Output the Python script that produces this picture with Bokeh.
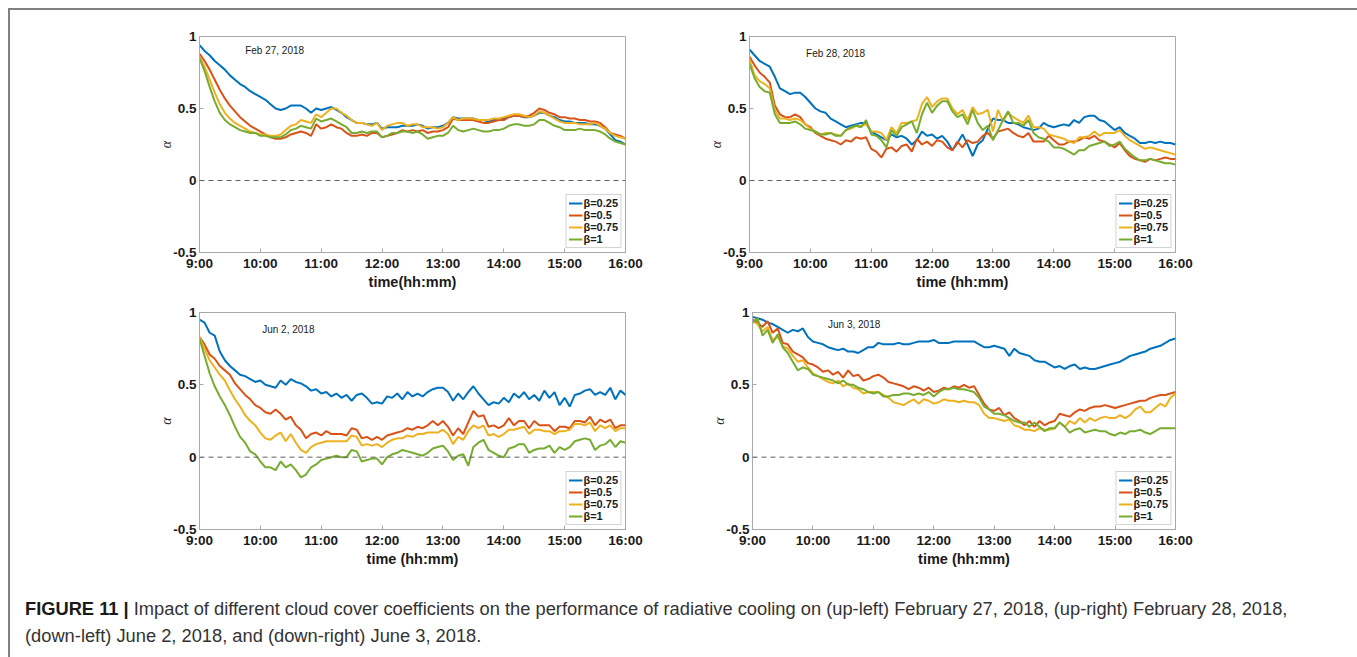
from bokeh.plotting import figure
from bokeh.models import Span, Label, FixedTicker, Legend, LegendItem, Div, ColumnDataSource
from bokeh.layouts import column, row
from bokeh.embed import file_html
from bokeh.resources import INLINE

# ---------------- data ----------------
hour_ticks = [9, 10, 11, 12, 13, 14, 15, 16]
hour_labels = ["9:00", "10:00", "11:00", "12:00", "13:00", "14:00", "15:00", "16:00"]
alpha_ticks = [-0.5, 0, 0.5, 1]
alpha_labels = ["-0.5", "0", "0.5", "1"]
beta_labels = ["\u03b2=0.25", "\u03b2=0.5", "\u03b2=0.75", "\u03b2=1"]
# samples every 5 minutes from 9:00 to 16:00
time_h = [9 + i / 12 for i in range(85)]

feb27_b025 = [0.94,0.90,0.87,0.83,0.80,0.77,0.73,0.70,0.67,0.65,0.62,0.60,
              0.58,0.56,0.53,0.50,0.49,0.50,0.52,0.52,0.52,0.50,0.47,0.50,
              0.49,0.50,0.51,0.49,0.47,0.44,0.42,0.40,0.40,0.39,0.39,0.40,
              0.36,0.37,0.37,0.37,0.38,0.38,0.38,0.39,0.38,0.36,0.37,0.37,
              0.38,0.40,0.44,0.43,0.43,0.43,0.43,0.42,0.42,0.41,0.42,0.42,
              0.43,0.44,0.45,0.45,0.44,0.44,0.45,0.47,0.47,0.45,0.44,0.42,
              0.41,0.41,0.40,0.40,0.40,0.39,0.39,0.38,0.36,0.32,0.28,0.27,
              0.25]
feb27_b05 = [0.88,0.83,0.77,0.70,0.63,0.57,0.52,0.48,0.44,0.41,0.38,0.36,
             0.34,0.32,0.30,0.29,0.29,0.30,0.32,0.33,0.34,0.33,0.31,0.39,
             0.36,0.37,0.39,0.37,0.36,0.33,0.31,0.31,0.32,0.31,0.33,0.33,
             0.30,0.31,0.32,0.33,0.35,0.34,0.35,0.34,0.35,0.33,0.34,0.34,
             0.35,0.37,0.43,0.42,0.42,0.42,0.42,0.41,0.40,0.40,0.41,0.42,
             0.42,0.44,0.45,0.45,0.44,0.45,0.47,0.50,0.49,0.47,0.46,0.44,
             0.44,0.43,0.43,0.42,0.42,0.41,0.41,0.40,0.37,0.33,0.32,0.31,
             0.29]
feb27_b075 = [0.86,0.79,0.70,0.61,0.53,0.47,0.43,0.40,0.38,0.36,0.34,0.33,
              0.32,0.32,0.31,0.31,0.32,0.35,0.38,0.39,0.42,0.41,0.40,0.46,
              0.44,0.47,0.50,0.50,0.47,0.45,0.42,0.40,0.40,0.39,0.38,0.40,
              0.35,0.38,0.39,0.40,0.40,0.38,0.39,0.39,0.37,0.37,0.37,0.36,
              0.37,0.40,0.44,0.42,0.43,0.43,0.43,0.42,0.42,0.42,0.43,0.43,
              0.44,0.45,0.46,0.46,0.45,0.44,0.45,0.48,0.47,0.45,0.43,0.41,
              0.40,0.40,0.40,0.39,0.39,0.39,0.40,0.38,0.36,0.33,0.31,0.30,
              0.29]
feb27_b1 = [0.85,0.76,0.65,0.55,0.47,0.42,0.39,0.37,0.35,0.34,0.33,0.33,
            0.31,0.31,0.30,0.30,0.30,0.32,0.35,0.36,0.38,0.37,0.36,0.43,
            0.41,0.42,0.43,0.41,0.39,0.37,0.33,0.33,0.34,0.33,0.34,0.34,
            0.30,0.31,0.33,0.33,0.34,0.34,0.33,0.34,0.32,0.29,0.30,0.31,
            0.31,0.33,0.38,0.35,0.34,0.35,0.36,0.35,0.34,0.34,0.35,0.35,
            0.36,0.38,0.39,0.39,0.38,0.38,0.39,0.42,0.42,0.40,0.38,0.37,
            0.35,0.35,0.35,0.36,0.35,0.35,0.35,0.34,0.32,0.29,0.27,0.26,
            0.25]

feb28_b025 = [0.91,0.87,0.83,0.81,0.79,0.72,0.64,0.62,0.60,0.61,0.61,0.58,
              0.54,0.50,0.48,0.47,0.43,0.41,0.39,0.37,0.38,0.39,0.40,0.40,
              0.34,0.32,0.30,0.28,0.32,0.30,0.31,0.29,0.25,0.28,0.34,0.31,
              0.32,0.29,0.31,0.27,0.21,0.26,0.32,0.25,0.17,0.25,0.28,0.36,
              0.43,0.42,0.42,0.40,0.40,0.39,0.37,0.36,0.35,0.36,0.40,0.38,
              0.37,0.38,0.39,0.38,0.42,0.40,0.44,0.45,0.45,0.42,0.41,0.38,
              0.35,0.37,0.33,0.31,0.29,0.26,0.26,0.27,0.26,0.27,0.26,0.26,
              0.25]
feb28_b05 = [0.86,0.80,0.75,0.72,0.68,0.52,0.46,0.44,0.44,0.46,0.44,0.39,
             0.37,0.33,0.31,0.29,0.28,0.27,0.25,0.28,0.27,0.30,0.29,0.30,
             0.22,0.20,0.16,0.22,0.23,0.20,0.24,0.25,0.20,0.29,0.25,0.27,
             0.24,0.28,0.27,0.23,0.21,0.27,0.23,0.28,0.26,0.27,0.31,0.33,
             0.29,0.34,0.35,0.36,0.33,0.31,0.30,0.33,0.27,0.27,0.27,0.31,
             0.28,0.25,0.25,0.27,0.27,0.28,0.30,0.29,0.31,0.28,0.27,0.25,
             0.23,0.26,0.21,0.17,0.15,0.14,0.13,0.15,0.14,0.15,0.16,0.15,
             0.15]
feb28_b075 = [0.84,0.73,0.69,0.67,0.64,0.49,0.43,0.43,0.42,0.43,0.42,0.39,
              0.36,0.34,0.32,0.33,0.33,0.32,0.31,0.35,0.36,0.38,0.38,0.39,
              0.34,0.34,0.33,0.28,0.37,0.33,0.40,0.40,0.41,0.42,0.53,0.58,
              0.51,0.55,0.57,0.57,0.50,0.46,0.49,0.42,0.51,0.46,0.47,0.49,
              0.34,0.49,0.41,0.47,0.44,0.42,0.40,0.45,0.37,0.37,0.36,0.32,
              0.31,0.30,0.29,0.27,0.26,0.30,0.30,0.31,0.34,0.31,0.33,0.33,
              0.33,0.35,0.31,0.28,0.26,0.24,0.22,0.23,0.22,0.21,0.20,0.19,
              0.18]
feb28_b1 = [0.81,0.71,0.65,0.62,0.61,0.46,0.40,0.40,0.40,0.41,0.39,0.36,
            0.35,0.34,0.32,0.32,0.33,0.31,0.31,0.35,0.37,0.38,0.37,0.42,
            0.32,0.31,0.28,0.23,0.35,0.31,0.37,0.39,0.41,0.33,0.46,0.54,
            0.47,0.52,0.55,0.55,0.48,0.44,0.46,0.39,0.49,0.40,0.35,0.38,
            0.28,0.35,0.42,0.48,0.40,0.40,0.38,0.42,0.33,0.30,0.29,0.27,
            0.23,0.23,0.22,0.20,0.18,0.21,0.21,0.24,0.25,0.26,0.27,0.24,
            0.25,0.27,0.22,0.19,0.16,0.14,0.14,0.15,0.14,0.13,0.12,0.12,
            0.11]

jun2_b025 = [0.95,0.93,0.86,0.84,0.73,0.67,0.63,0.60,0.57,0.56,0.54,0.52,
             0.53,0.50,0.49,0.48,0.53,0.50,0.54,0.52,0.51,0.49,0.46,0.47,
             0.44,0.45,0.42,0.44,0.41,0.43,0.39,0.43,0.44,0.41,0.37,0.38,
             0.37,0.42,0.41,0.44,0.40,0.45,0.42,0.44,0.42,0.45,0.47,0.48,
             0.48,0.45,0.39,0.44,0.40,0.45,0.49,0.44,0.40,0.36,0.38,0.37,
             0.41,0.38,0.44,0.41,0.45,0.40,0.43,0.39,0.46,0.41,0.45,0.36,
             0.41,0.35,0.43,0.44,0.46,0.47,0.43,0.45,0.43,0.48,0.40,0.46,
             0.43]
jun2_b05 = [0.83,0.78,0.71,0.68,0.63,0.60,0.57,0.51,0.47,0.43,0.40,0.36,
            0.34,0.31,0.30,0.33,0.30,0.26,0.28,0.22,0.19,0.13,0.16,0.17,
            0.15,0.18,0.16,0.16,0.16,0.15,0.20,0.19,0.13,0.14,0.12,0.14,
            0.12,0.15,0.16,0.17,0.18,0.20,0.19,0.21,0.20,0.22,0.25,0.22,
            0.25,0.21,0.15,0.20,0.16,0.24,0.32,0.28,0.29,0.21,0.22,0.20,
            0.22,0.27,0.22,0.25,0.25,0.20,0.25,0.22,0.22,0.22,0.18,0.21,
            0.21,0.20,0.25,0.25,0.24,0.28,0.22,0.26,0.24,0.26,0.20,0.22,
            0.22]
jun2_b075 = [0.83,0.75,0.67,0.62,0.57,0.53,0.46,0.40,0.35,0.29,0.25,0.22,
             0.17,0.13,0.12,0.15,0.17,0.11,0.16,0.10,0.05,0.03,0.07,0.09,
             0.10,0.11,0.11,0.11,0.11,0.11,0.15,0.14,0.08,0.09,0.08,0.09,
             0.07,0.10,0.12,0.13,0.13,0.15,0.14,0.16,0.16,0.17,0.17,0.17,
             0.19,0.16,0.09,0.14,0.12,0.18,0.22,0.20,0.22,0.15,0.16,0.14,
             0.16,0.19,0.19,0.20,0.21,0.16,0.19,0.19,0.18,0.18,0.16,0.18,
             0.18,0.19,0.23,0.23,0.22,0.24,0.18,0.22,0.20,0.22,0.18,0.20,
             0.20]
jun2_b1 = [0.82,0.70,0.58,0.49,0.42,0.36,0.29,0.21,0.14,0.10,0.04,0.02,
           -0.03,-0.07,-0.07,-0.09,-0.03,-0.07,-0.05,-0.09,-0.14,-0.12,-0.07,-0.05,
           -0.02,-0.01,0.00,0.01,0.00,0.00,0.05,0.04,-0.03,-0.02,-0.01,-0.01,
           -0.05,0.00,0.02,0.03,0.05,0.04,0.03,0.02,0.01,0.03,0.06,0.07,
           0.08,0.04,-0.02,0.01,0.02,-0.06,0.07,0.10,0.12,0.05,0.03,0.01,
           0.00,0.06,0.07,0.09,0.09,0.03,0.05,0.06,0.06,0.08,0.03,0.07,
           0.05,0.07,0.11,0.12,0.13,0.12,0.05,0.08,0.09,0.12,0.07,0.11,
           0.10]

jun3_b025 = [0.97,0.96,0.95,0.93,0.92,0.90,0.88,0.86,0.88,0.87,0.89,0.83,
             0.80,0.79,0.78,0.76,0.75,0.74,0.75,0.73,0.73,0.72,0.74,0.76,
             0.76,0.79,0.78,0.78,0.78,0.79,0.78,0.78,0.79,0.80,0.80,0.80,
             0.81,0.79,0.79,0.79,0.80,0.80,0.80,0.80,0.80,0.78,0.76,0.76,
             0.77,0.76,0.75,0.70,0.75,0.72,0.71,0.70,0.67,0.66,0.66,0.64,
             0.62,0.63,0.61,0.63,0.64,0.61,0.62,0.61,0.61,0.62,0.63,0.64,
             0.65,0.66,0.68,0.70,0.71,0.72,0.73,0.75,0.76,0.77,0.79,0.81,
             0.82]
jun3_b05 = [0.95,0.93,0.90,0.94,0.86,0.89,0.79,0.78,0.73,0.71,0.69,0.65,
            0.64,0.62,0.59,0.60,0.57,0.59,0.55,0.60,0.56,0.57,0.53,0.54,
            0.56,0.57,0.55,0.52,0.51,0.50,0.49,0.47,0.49,0.48,0.46,0.48,
            0.45,0.46,0.48,0.47,0.49,0.48,0.50,0.48,0.49,0.43,0.37,0.33,
            0.32,0.34,0.29,0.31,0.27,0.25,0.22,0.25,0.21,0.25,0.22,0.24,
            0.25,0.30,0.29,0.28,0.31,0.33,0.32,0.34,0.35,0.35,0.36,0.35,
            0.34,0.35,0.36,0.37,0.38,0.39,0.39,0.41,0.42,0.43,0.43,0.44,
            0.45]
jun3_b075 = [0.94,0.92,0.87,0.90,0.81,0.83,0.77,0.75,0.70,0.66,0.67,0.62,
             0.58,0.56,0.54,0.52,0.51,0.53,0.49,0.51,0.48,0.47,0.44,0.45,
             0.45,0.45,0.43,0.41,0.38,0.37,0.36,0.38,0.40,0.37,0.40,0.39,
             0.37,0.38,0.40,0.39,0.39,0.38,0.39,0.38,0.38,0.36,0.30,0.27,
             0.27,0.26,0.25,0.26,0.22,0.21,0.19,0.19,0.18,0.20,0.19,0.19,
             0.20,0.24,0.21,0.25,0.23,0.27,0.24,0.27,0.25,0.27,0.28,0.27,
             0.27,0.29,0.27,0.29,0.33,0.35,0.31,0.31,0.34,0.37,0.35,0.41,
             0.44]
jun3_b1 = [0.93,0.96,0.84,0.88,0.79,0.85,0.76,0.72,0.66,0.60,0.62,0.61,
           0.57,0.56,0.55,0.54,0.53,0.51,0.53,0.50,0.50,0.48,0.47,0.45,
           0.44,0.45,0.42,0.42,0.43,0.43,0.44,0.44,0.43,0.44,0.43,0.45,
           0.42,0.45,0.47,0.47,0.48,0.47,0.47,0.46,0.45,0.41,0.35,0.33,
           0.30,0.30,0.29,0.27,0.25,0.24,0.24,0.21,0.24,0.21,0.18,0.20,
           0.20,0.24,0.21,0.17,0.19,0.20,0.17,0.18,0.19,0.18,0.18,0.16,
           0.15,0.17,0.16,0.18,0.18,0.19,0.17,0.16,0.18,0.20,0.20,0.20,
           0.20]

# ---------------- styling ----------------
COLORS = ["#0072BD", "#D95319", "#EDB120", "#77AC30"]
FRAME = "#a8a8a8"
SANS = "Liberation Sans"


def make_panel(series, date_text, date_x, date_y, xlabel,
               width, height, left, right, top, bottom):
    p = figure(width=width, height=height, x_range=(9, 16), y_range=(-0.5, 1),
               output_backend="svg", toolbar_location=None,
               min_border_left=left, min_border_right=right,
               min_border_top=top, min_border_bottom=bottom)
    p.background_fill_color = "white"
    p.border_fill_color = "white"
    p.outline_line_color = FRAME
    p.outline_line_width = 1
    p.grid.visible = False

    p.xaxis.ticker = FixedTicker(ticks=hour_ticks)
    p.xaxis.major_label_overrides = {t: l for t, l in zip(hour_ticks, hour_labels)}
    p.yaxis.ticker = FixedTicker(ticks=alpha_ticks)
    p.yaxis.major_label_overrides = {t: l for t, l in zip(alpha_ticks, alpha_labels)}
    for ax in (p.xaxis[0], p.yaxis[0]):
        ax.axis_line_color = FRAME
        ax.major_tick_line_color = FRAME
        ax.major_tick_in = 4
        ax.major_tick_out = 0
        ax.minor_tick_line_color = None
        ax.major_label_text_font = SANS
        ax.major_label_text_font_style = "bold"
        ax.major_label_text_font_size = "13.5px"
        ax.major_label_text_color = "#1a1a1a"
        ax.major_label_standoff = 3
    p.xaxis.axis_label = xlabel
    p.xaxis.axis_label_text_font = SANS
    p.xaxis.axis_label_text_font_style = "bold"
    p.xaxis.axis_label_text_font_size = "14.5px"
    p.xaxis.axis_label_text_color = "#1a1a1a"
    p.xaxis.axis_label_standoff = 0
    p.yaxis.axis_label = "\u03b1"
    p.yaxis.axis_label_text_font = "Liberation Serif"
    p.yaxis.axis_label_text_font_style = "italic"
    p.yaxis.axis_label_text_font_size = "14px"
    p.yaxis.axis_label_text_color = "#262626"
    p.yaxis.axis_label_standoff = -4

    p.add_layout(Span(location=0, dimension="width", line_color="#606060",
                      line_width=1, line_dash="5 4"))

    items = []
    for vals, col, lab in zip(series, COLORS, beta_labels):
        src = ColumnDataSource(data=dict(t=time_h, a=vals))
        r = p.line("t", "a", source=src, line_color=col, line_width=2)
        items.append(LegendItem(label=lab, renderers=[r]))
    leg = Legend(items=items, location="bottom_right",
                 glyph_width=14, glyph_height=12, label_height=12,
                 label_standoff=1, spacing=0, padding=2, margin=4,
                 border_line_color=FRAME, border_line_width=1,
                 label_text_font=SANS, label_text_font_style="bold",
                 label_text_font_size="11px", label_text_color="#1a1a1a",
                 label_text_line_height=1.0)
    p.add_layout(leg)

    p.add_layout(Label(x=date_x, y=date_y, text=date_text, text_font=SANS,
                       text_font_size="10px", text_color="#1a1a1a",
                       text_baseline="middle", text_align="left"))
    return p


f1 = make_panel([feb27_b025, feb27_b05, feb27_b075, feb27_b1], "Feb 27, 2018",
                9.75, 0.90, "time(hh:mm)", 656, 282, 189, 41, 23, 38)
f2 = make_panel([feb28_b025, feb28_b05, feb28_b075, feb28_b1], "Feb 28, 2018",
                9.93, 0.88, "time (hh:mm)", 687, 282, 83, 178, 26, 35)
f3 = make_panel([jun2_b025, jun2_b05, jun2_b075, jun2_b1], "Jun 2, 2018",
                10.03, 0.88, "time (hh:mm)", 656, 298, 189, 41, 16, 61)
f4 = make_panel([jun3_b025, jun3_b05, jun3_b075, jun3_b1], "Jun 3, 2018",
                10.25, 0.92, "time (hh:mm)", 687, 298, 86, 178, 20, 53)

caption_html = (
    '<div style="font-family:\'Liberation Sans\',Arial,sans-serif;font-size:18.3px;'
    'line-height:27px;color:#333333;padding:0 0 0 10px;white-space:nowrap;">'
    '<b style="color:#1a1a1a;">FIGURE 11 |</b> Impact of different cloud cover coefficients '
    'on the performance of radiative cooling on (up-left) February 27, 2018, (up-right) '
    'February 28, 2018,<br>(down-left) June 2, 2018, and (down-right) June 3, 2018.</div>'
)
cap = Div(text=caption_html, width=1343, height=60)

layout = column(row(f1, f2), row(f3, f4), cap,
                margin=(8, 0, 0, 8),
                styles={"border-left": "2px solid #808080",
                        "border-top": "2px solid #808080",
                        "border-right": "2px solid #808080"})

open("out.html", "w").write(file_html(layout, INLINE))
